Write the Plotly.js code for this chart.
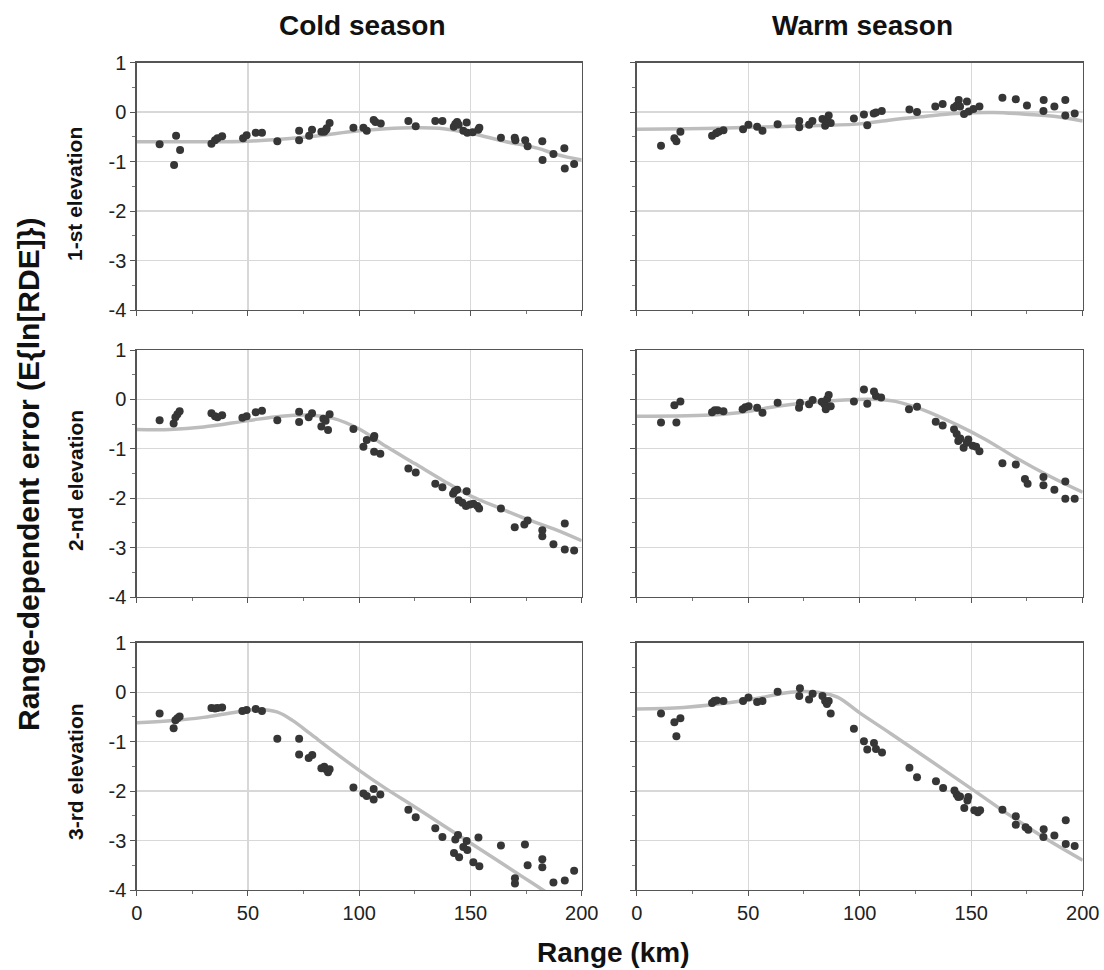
<!DOCTYPE html>
<html>
<head>
<meta charset="utf-8">
<script src="https://cdn.plot.ly/plotly-3.0.1.min.js"></script>
<style>html,body{margin:0;padding:0;background:#fff;}#chart{width:1104px;height:970px;}</style>
</head>
<body>
<div id="chart"></div>
<script>
// ---------- Data ----------
const columnTitles = ["Cold season", "Warm season"];
const rowTitles = ["1-st elevation", "2-nd elevation", "3-rd elevation"];
const xTickVals = [0, 50, 100, 150, 200];
const yTickVals = [1, 0, -1, -2, -3, -4];

// Cold season, 1st elevation
const coldE1X = [10.3,16.8,17.7,19.5,33.6,35.2,36.3,38.4,47.8,49.4,53.5,56.3,63.2,73.0,73.0,77.5,78.8,83.0,84.3,85.1,85.4,86.7,97.4,101.9,103.4,106.5,107.3,109.7,122.1,125.4,134.2,137.4,142.5,143.2,144.0,144.7,146.8,148.3,148.6,151.0,153.5,154.0,163.7,169.9,170.2,174.6,175.7,182.3,182.4,187.3,192.2,192.4,196.6];
const coldE1Y = [-0.65,-1.07,-0.48,-0.77,-0.64,-0.57,-0.53,-0.49,-0.53,-0.47,-0.42,-0.42,-0.59,-0.57,-0.38,-0.48,-0.36,-0.40,-0.40,-0.36,-0.33,-0.22,-0.32,-0.32,-0.38,-0.16,-0.20,-0.23,-0.18,-0.29,-0.18,-0.18,-0.30,-0.24,-0.20,-0.26,-0.38,-0.21,-0.42,-0.41,-0.36,-0.32,-0.52,-0.52,-0.57,-0.57,-0.69,-0.59,-0.97,-0.85,-0.73,-1.14,-1.05];
const coldE1FitX = [0,25,50,75,100,112,124,136,150,166,180,189,200];
const coldE1FitY = [-0.6,-0.6,-0.59,-0.51,-0.38,-0.34,-0.32,-0.33,-0.43,-0.6,-0.73,-0.86,-0.97];

// Warm season, 1st elevation
const warmE1X = [10.9,16.9,17.8,19.6,33.8,35.6,36.8,38.9,47.7,50.1,54.0,56.4,63.2,72.9,72.9,77.3,78.8,83.3,84.5,85.5,86.1,87.0,97.4,101.9,103.4,106.3,107.3,109.9,122.3,125.7,133.9,137.2,142.3,143.5,144.4,145.0,146.8,148.1,148.9,151.0,153.7,164.0,170.0,175.0,182.5,182.4,187.3,192.2,192.2,196.4];
const warmE1Y = [-0.68,-0.53,-0.59,-0.40,-0.48,-0.43,-0.40,-0.37,-0.35,-0.26,-0.30,-0.38,-0.25,-0.18,-0.31,-0.26,-0.18,-0.14,-0.28,-0.18,-0.07,-0.22,-0.13,-0.05,-0.27,-0.03,-0.01,0.02,0.05,0.0,0.11,0.16,0.09,0.13,0.24,0.11,-0.04,0.21,0.01,0.06,0.11,0.29,0.26,0.13,0.24,0.02,0.11,0.24,-0.07,-0.03];
const warmE1FitX = [0,36,50,75,100,114,129,143,160,173,188,200];
const warmE1FitY = [-0.35,-0.33,-0.31,-0.28,-0.24,-0.16,-0.09,-0.03,-0.01,-0.04,-0.09,-0.18];

// Cold season, 2nd elevation
const coldE2X = [10.3,16.6,17.4,18.3,19.3,33.6,35.2,36.3,38.4,47.5,49.4,53.5,56.3,63.2,73.0,73.0,77.3,78.8,83.0,83.9,84.9,86.0,86.7,97.4,101.9,103.4,106.5,106.8,106.7,109.5,122.1,125.4,134.2,137.4,142.2,142.9,144.0,144.7,146.4,148.0,148.3,149.8,151.3,153.1,153.9,163.7,169.9,174.2,175.7,182.3,182.3,187.3,192.4,192.4,196.6];
const coldE2Y = [-0.42,-0.49,-0.36,-0.30,-0.24,-0.28,-0.34,-0.36,-0.32,-0.37,-0.34,-0.26,-0.23,-0.42,-0.25,-0.46,-0.36,-0.28,-0.55,-0.39,-0.43,-0.62,-0.30,-0.60,-0.96,-0.82,-0.78,-0.74,-1.06,-1.10,-1.40,-1.48,-1.71,-1.78,-1.91,-1.86,-1.83,-2.04,-2.09,-2.16,-1.86,-2.13,-2.11,-2.16,-2.21,-2.21,-2.59,-2.53,-2.45,-2.65,-2.77,-2.93,-2.51,-3.04,-3.06];
const coldE2FitX = [0,15,30,50,65,78,88,100,112,125,138,150,163,175,188,200];
const coldE2FitY = [-0.61,-0.61,-0.56,-0.43,-0.34,-0.32,-0.38,-0.6,-0.95,-1.3,-1.65,-1.95,-2.2,-2.42,-2.63,-2.86];

// Warm season, 2nd elevation
const warmE2X = [10.9,16.9,17.8,19.6,33.8,35.0,36.3,38.9,47.5,48.7,50.2,54.0,56.4,63.2,72.8,73.2,77.3,78.9,83.0,84.2,84.8,85.4,86.1,87.0,97.4,101.9,103.4,106.4,107.3,109.6,122.1,125.7,134.1,137.2,142.3,143.5,144.2,145.1,146.6,148.0,148.7,150.7,152.2,153.7,164.0,170.0,174.1,175.3,182.4,182.4,187.3,192.2,192.2,196.4];
const warmE2Y = [-0.47,-0.12,-0.47,-0.04,-0.26,-0.22,-0.22,-0.24,-0.20,-0.16,-0.14,-0.17,-0.27,-0.07,-0.17,-0.07,-0.10,-0.01,-0.05,-0.10,-0.20,0.01,0.09,-0.14,-0.04,0.20,-0.09,0.16,0.07,0.04,-0.20,-0.15,-0.45,-0.53,-0.61,-0.70,-0.84,-0.79,-0.98,-0.88,-0.81,-0.94,-0.96,-1.05,-1.29,-1.32,-1.61,-1.71,-1.57,-1.74,-1.83,-1.66,-2.01,-2.01];
const warmE2FitX = [0,36,50,63,76,93,108,116,129,143,156,170,185,200];
const warmE2FitY = [-0.34,-0.31,-0.24,-0.14,-0.07,-0.01,0,-0.04,-0.22,-0.5,-0.8,-1.18,-1.55,-1.88];

// Cold season, 3rd elevation
const coldE3X = [10.3,16.6,17.4,18.3,19.3,33.6,35.2,36.3,38.4,47.5,49.4,53.5,56.3,63.2,73.0,73.0,77.3,78.9,83.0,84.3,85.1,86.0,86.7,97.4,101.9,103.4,106.5,106.5,109.5,122.1,125.4,134.2,137.4,142.6,143.2,144.4,144.9,146.8,148.3,148.6,151.3,153.6,154.0,163.7,170.0,170.0,174.5,175.7,182.3,182.3,187.3,192.4,196.6];
const coldE3Y = [-0.43,-0.73,-0.57,-0.53,-0.49,-0.32,-0.33,-0.32,-0.31,-0.38,-0.36,-0.34,-0.38,-0.94,-0.94,-1.26,-1.33,-1.27,-1.54,-1.51,-1.56,-1.62,-1.56,-1.93,-2.05,-2.10,-1.96,-2.17,-2.07,-2.38,-2.53,-2.75,-2.93,-3.25,-2.98,-2.89,-3.34,-3.13,-3.01,-3.19,-3.44,-2.94,-3.52,-3.10,-3.76,-3.87,-3.08,-3.50,-3.38,-3.54,-3.85,-3.81,-3.61];
const coldE3FitX = [0,15,30,45,55,63,70,78,87,100,112,125,138,150,162,174,186,200];
const coldE3FitY = [-0.62,-0.58,-0.51,-0.4,-0.35,-0.4,-0.57,-0.84,-1.15,-1.58,-1.95,-2.32,-2.7,-3.05,-3.4,-3.75,-4.1,-4.5];

// Warm season, 3rd elevation
const warmE3X = [10.9,16.9,17.8,19.6,33.8,34.8,35.9,38.9,47.7,50.1,54.0,56.4,63.2,73.2,72.9,77.3,78.9,83.3,84.5,85.3,86.1,87.0,97.4,101.9,103.4,106.4,107.3,110.0,122.3,125.7,134.2,137.4,142.5,143.5,144.2,145.0,146.9,148.3,148.7,151.4,153.0,154.0,164.0,170.0,170.0,174.4,175.6,182.5,182.4,187.3,192.4,192.4,196.4];
const warmE3Y = [-0.43,-0.61,-0.89,-0.53,-0.22,-0.18,-0.17,-0.18,-0.18,-0.11,-0.20,-0.18,0.01,0.08,-0.08,-0.15,-0.03,-0.08,-0.18,-0.24,-0.18,-0.43,-0.74,-0.99,-1.16,-1.03,-1.15,-1.22,-1.53,-1.72,-1.80,-1.94,-1.99,-2.07,-2.12,-2.11,-2.34,-2.19,-2.12,-2.39,-2.43,-2.39,-2.38,-2.51,-2.68,-2.73,-2.78,-2.77,-2.93,-2.90,-2.59,-3.07,-3.11];
const warmE3FitX = [0,21,50,69,81,90,100,114,129,150,166,183,200];
const warmE3FitY = [-0.34,-0.31,-0.16,0,0,-0.1,-0.42,-0.84,-1.3,-1.95,-2.45,-2.95,-3.4];

// ---------- Build the figure ----------
const panels = [
  {x: coldE1X, y: coldE1Y, fx: coldE1FitX, fy: coldE1FitY},
  {x: warmE1X, y: warmE1Y, fx: warmE1FitX, fy: warmE1FitY},
  {x: coldE2X, y: coldE2Y, fx: coldE2FitX, fy: coldE2FitY},
  {x: warmE2X, y: warmE2Y, fx: warmE2FitX, fy: warmE2FitY},
  {x: coldE3X, y: coldE3Y, fx: coldE3FitX, fy: coldE3FitY},
  {x: warmE3X, y: warmE3Y, fx: warmE3FitX, fy: warmE3FitY}
];

const W = 1104, H = 970;
const colPx = [[136.7, 581.7], [636.7, 1082.7]];
const rowPx = [[62.5, 310], [350, 597], [642.7, 890]];
const FONT = "Arial, 'Liberation Sans', sans-serif";

const traces = [];
const layout = {
  width: W, height: H,
  margin: {l: 0, r: 0, t: 0, b: 0},
  paper_bgcolor: "#ffffff", plot_bgcolor: "#ffffff",
  showlegend: false,
  font: {family: FONT, color: "#222"},
  annotations: []
};

panels.forEach((p, i) => {
  const row = Math.floor(i / 2), col = i % 2;
  const n = i + 1;
  const xa = "x" + (n === 1 ? "" : n), ya = "y" + (n === 1 ? "" : n);
  traces.push({
    x: p.fx, y: p.fy, xaxis: xa, yaxis: ya, type: "scatter", mode: "lines",
    line: {color: "#bdbdbd", width: 3.5, shape: "spline", smoothing: 1},
    hoverinfo: "skip"
  });
  traces.push({
    x: p.x, y: p.y, xaxis: xa, yaxis: ya, type: "scatter", mode: "markers",
    marker: {color: "#363636", size: 8, line: {width: 0}},
    cliponaxis: true
  });
  const xKey = "xaxis" + (n === 1 ? "" : n), yKey = "yaxis" + (n === 1 ? "" : n);
  layout[xKey] = {
    domain: [colPx[col][0] / W, colPx[col][1] / W],
    anchor: ya, range: [0, 200],
    tickvals: xTickVals, ticktext: xTickVals.map(String),
    showticklabels: row === 2,
    ticks: "outside", ticklen: 5, tickwidth: 1, tickcolor: "#555",
    minor: {tickvals: [25, 75, 125, 175], ticks: "outside", ticklen: 3, tickcolor: "#777", showgrid: false},
    showgrid: true, gridcolor: "#d8d8d8", gridwidth: 1.3,
    showline: true, linecolor: "#555", linewidth: 1.3, mirror: true,
    zeroline: false,
    tickfont: {family: FONT, size: 20, color: "#222"}
  };
  layout[yKey] = {
    domain: [1 - rowPx[row][1] / H, 1 - rowPx[row][0] / H],
    anchor: xa, range: [-4, 1],
    tickvals: yTickVals, ticktext: yTickVals.map(String),
    showticklabels: col === 0,
    ticks: "outside", ticklen: 5, tickwidth: 1, tickcolor: "#555",
    minor: {tickvals: [0.5, -0.5, -1.5, -2.5, -3.5], ticks: "outside", ticklen: 3, tickcolor: "#777", showgrid: false},
    showgrid: true, gridcolor: "#d8d8d8", gridwidth: 1.3,
    showline: true, linecolor: "#555", linewidth: 1.3, mirror: true,
    zeroline: false,
    tickfont: {family: FONT, size: 20, color: "#222"}
  };
});

// Column titles
const colCentersPx = [362, 862];
columnTitles.forEach((t, c) => {
  layout.annotations.push({
    text: "<b>" + t + "</b>", xref: "paper", yref: "paper",
    x: colCentersPx[c] / W, y: 1 - 25 / H, xanchor: "center", yanchor: "middle",
    showarrow: false, font: {family: FONT, size: 28, color: "#111"}
  });
});
// Row titles
const rowCentersPx = [194, 481, 772];
rowTitles.forEach((t, r) => {
  layout.annotations.push({
    text: "<b>" + t + "</b>", xref: "paper", yref: "paper",
    x: 75 / W, y: 1 - rowCentersPx[r] / H, xanchor: "center", yanchor: "middle",
    textangle: -90, showarrow: false, font: {family: FONT, size: 21, color: "#111"}
  });
});
// Global axis titles
layout.annotations.push({
  text: "<b>Range-dependent error (E{ln[RDE]})</b>", xref: "paper", yref: "paper",
  x: 28 / W, y: 1 - 475 / H, xanchor: "center", yanchor: "middle",
  textangle: -90, showarrow: false, font: {family: FONT, size: 30, color: "#111"}
});
layout.annotations.push({
  text: "<b>Range (km)</b>", xref: "paper", yref: "paper",
  x: 613 / W, y: 1 - 952 / H, xanchor: "center", yanchor: "middle",
  showarrow: false, font: {family: FONT, size: 28, color: "#111"}
});

Plotly.newPlot("chart", traces, layout, {displayModeBar: false, staticPlot: true});
</script>
</body>
</html>
